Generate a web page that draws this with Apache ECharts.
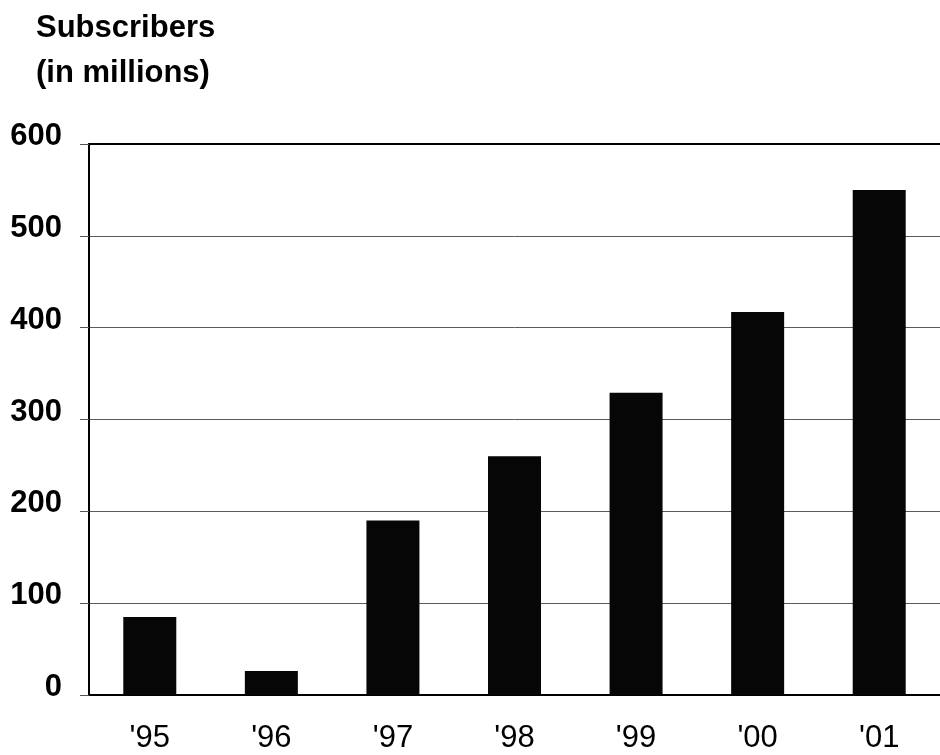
<!DOCTYPE html>
<html>
<head>
<meta charset="utf-8">
<script src="https://cdn.jsdelivr.net/npm/echarts@6/dist/echarts.min.js"></script>
<style>
  html, body { margin: 0; padding: 0; background: #fff; }
  #chart { width: 940px; height: 755px; }
</style>
</head>
<body>
<div id="chart"></div>
<script>
// Subscriber counts by year, in millions
const years = ["'95", "'96", "'97", "'98", "'99", "'00", "'01"];
const subscribers = [85, 26, 190, 260, 329, 417, 550];
const yTicks = [0, 100, 200, 300, 400, 500, 600];

const FONT = '"Liberation Sans", Arial, Helvetica, sans-serif';

const chart = echarts.init(document.getElementById('chart'), null, { renderer: 'canvas' });

chart.setOption({
  backgroundColor: '#ffffff',
  animation: false,
  title: {
    text: 'Subscribers\n(in millions)',
    left: 31,
    top: 1,
    textStyle: {
      fontFamily: FONT,
      fontWeight: 'bold',
      fontSize: 31,
      lineHeight: 45,
      color: '#000'
    }
  },
  grid: {
    left: 89,
    top: 144,
    bottom: 60,
    width: 860,
    containLabel: false
  },
  xAxis: [
    {
      type: 'category',
      data: years,
      position: 'bottom',
      axisLine: { show: true, lineStyle: { color: '#000', width: 2 } },
      axisTick: { show: false },
      axisLabel: {
        fontFamily: FONT,
        fontSize: 31,
        color: '#000',
        margin: 28
      },
      splitLine: { show: false }
    },
    {
      // closing frame line along the top of the plot
      type: 'category',
      data: years,
      position: 'top',
      axisLine: { show: true, lineStyle: { color: '#000', width: 2 } },
      axisTick: { show: false },
      axisLabel: { show: false },
      splitLine: { show: false }
    }
  ],
  yAxis: {
    type: 'value',
    min: yTicks[0],
    max: yTicks[yTicks.length - 1],
    interval: 100,
    axisLine: { show: true, lineStyle: { color: '#000', width: 2 } },
    axisTick: { show: true, length: 9, lineStyle: { color: '#555', width: 1 } },
    axisLabel: {
      fontFamily: FONT,
      fontWeight: 'bold',
      fontSize: 31,
      color: '#000',
      margin: 27,
      verticalAlign: 'bottom',
      lineHeight: 15
    },
    splitLine: { show: true, lineStyle: { color: '#5a5a5a', width: 1 } }
  },
  series: [
    {
      type: 'bar',
      data: subscribers,
      xAxisIndex: 0,
      barWidth: 53,
      itemStyle: { color: '#060606' }
    }
  ]
});
</script>
</body>
</html>
